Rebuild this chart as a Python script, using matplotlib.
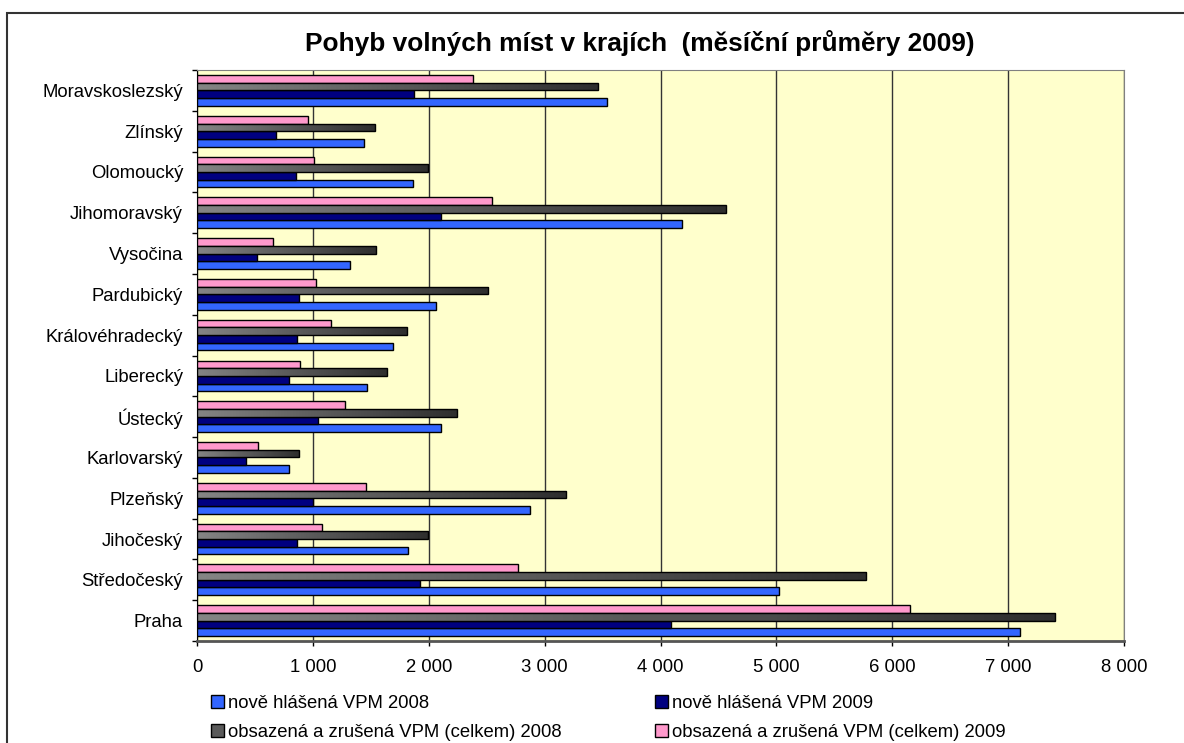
import numpy as np
import matplotlib
matplotlib.use("Agg")
import matplotlib.pyplot as plt
from matplotlib.patches import Rectangle, Patch
from matplotlib.colors import LinearSegmentedColormap
from matplotlib.ticker import FuncFormatter, MultipleLocator

plt.rcParams['font.family'] = ['Liberation Sans', 'DejaVu Sans']

regions = ["Praha", "Středočeský", "Jihočeský", "Plzeňský", "Karlovarský", "Ústecký",
           "Liberecký", "Královéhradecký", "Pardubický", "Vysočina", "Jihomoravský",
           "Olomoucký", "Zlínský", "Moravskoslezský"]
new_2008 = [7104, 5025, 1819, 2876, 796, 2109, 1468, 1695, 2063, 1322, 4183, 1868, 1440, 3534]
new_2009 = [4087, 1925, 859, 1003, 422, 1046, 793, 865, 879, 520, 2103, 853, 678, 1871]
closed_2008 = [7408, 5775, 1997, 3186, 879, 2241, 1638, 1810, 2514, 1548, 4563, 1994, 1534, 3459]
closed_2009 = [6156, 2774, 1083, 1462, 526, 1281, 885, 1155, 1028, 658, 2546, 1011, 960, 2379]
series_labels = ["nově hlášená VPM 2008", "nově hlášená VPM 2009",
                 "obsazená a zrušená VPM (celkem) 2008", "obsazená a zrušená VPM (celkem) 2009"]
title = "Pohyb volných míst v krajích  (měsíční průměry 2009)"

c_blue = "#3366FF"
c_navy = "#000080"
c_pink = "#FF99CC"
bg = "#FFFFCC"
FS = 13.3

W, H = 1184, 743
fig = plt.figure(figsize=(W/100, H/100), dpi=100)
ax = fig.add_axes([197/W, 1 - 641/H, (1124-197)/W, (641-70)/H])
ax.set_facecolor(bg)

y = np.arange(len(regions))
h = 0.188
offs = [-1.5*h, -0.5*h, 0.5*h, 1.5*h]
ax.barh(y + offs[0], new_2008, height=h, color=c_blue, edgecolor="black", lw=1, zorder=3)
ax.barh(y + offs[1], new_2009, height=h, color=c_navy, edgecolor="black", lw=1, zorder=3)
gb = ax.barh(y + offs[2], closed_2008, height=h, facecolor="none", edgecolor="black", lw=1, zorder=4)
ax.barh(y + offs[3], closed_2009, height=h, color=c_pink, edgecolor="black", lw=1, zorder=3)

cmap = LinearSegmentedColormap.from_list("g", ["#858585", "#2e2e2e"])
grad = np.linspace(0, 1, 256).reshape(1, -1)
for p in gb.patches:
    x0, y0 = p.get_x(), p.get_y()
    w, hh = p.get_width(), p.get_height()
    im = ax.imshow(grad, cmap=cmap, aspect="auto", extent=[x0, x0 + w, y0, y0 + hh],
                   zorder=3, interpolation="bilinear")
    im.set_clip_path(p)

ax.set_xlim(0, 8000)
ax.set_ylim(-0.5, len(regions) - 0.5)
ax.xaxis.set_major_locator(MultipleLocator(1000))
ax.xaxis.set_major_formatter(FuncFormatter(lambda v, p: f"{int(v):,}".replace(",", " ")))
ax.grid(axis="x", color="#333333", lw=1, zorder=1)
ax.set_axisbelow(True)

ax.set_yticks(y)
ax.set_yticklabels(regions)
ax.set_yticks(np.arange(-0.5, len(regions)), minor=True)
ax.tick_params(axis="y", which="major", length=0, pad=10, labelsize=FS)
ax.tick_params(axis="y", which="minor", length=3.6, width=1, color="black")
ax.tick_params(axis="x", length=3.6, width=1, pad=9, labelsize=FS)

ax.spines["left"].set_color("black")
ax.spines["bottom"].set_color("#555555")
ax.spines["bottom"].set_linewidth(2)
ax.spines["top"].set_color("#808080")
ax.spines["right"].set_color("#808080")

fig.text(640/W, 1 - 43/H, title, ha="center", va="center", fontsize=18.9, fontweight="bold")

handles = [Patch(facecolor=c_blue, edgecolor="black"), Patch(facecolor=c_navy, edgecolor="black"),
           Patch(facecolor="#5a5a5a", edgecolor="black"), Patch(facecolor=c_pink, edgecolor="black")]
order = [0, 2, 1, 3]
leg = fig.legend([handles[i] for i in order], [series_labels[i] for i in order], ncol=2,
                 loc="upper left", bbox_to_anchor=(211/W, 1 - 695/H), frameon=False,
                 fontsize=FS, handlelength=0.7, handleheight=0.7, handletextpad=0.2,
                 columnspacing=5.1, labelspacing=0.66, borderaxespad=0, borderpad=0)

fig.patches.append(Rectangle((7/W, -0.1), 1.2, 1 - 13/H + 0.1, transform=fig.transFigure,
                             fill=False, edgecolor="#333333", lw=1.5))

fig.savefig("out.png", dpi=100)
